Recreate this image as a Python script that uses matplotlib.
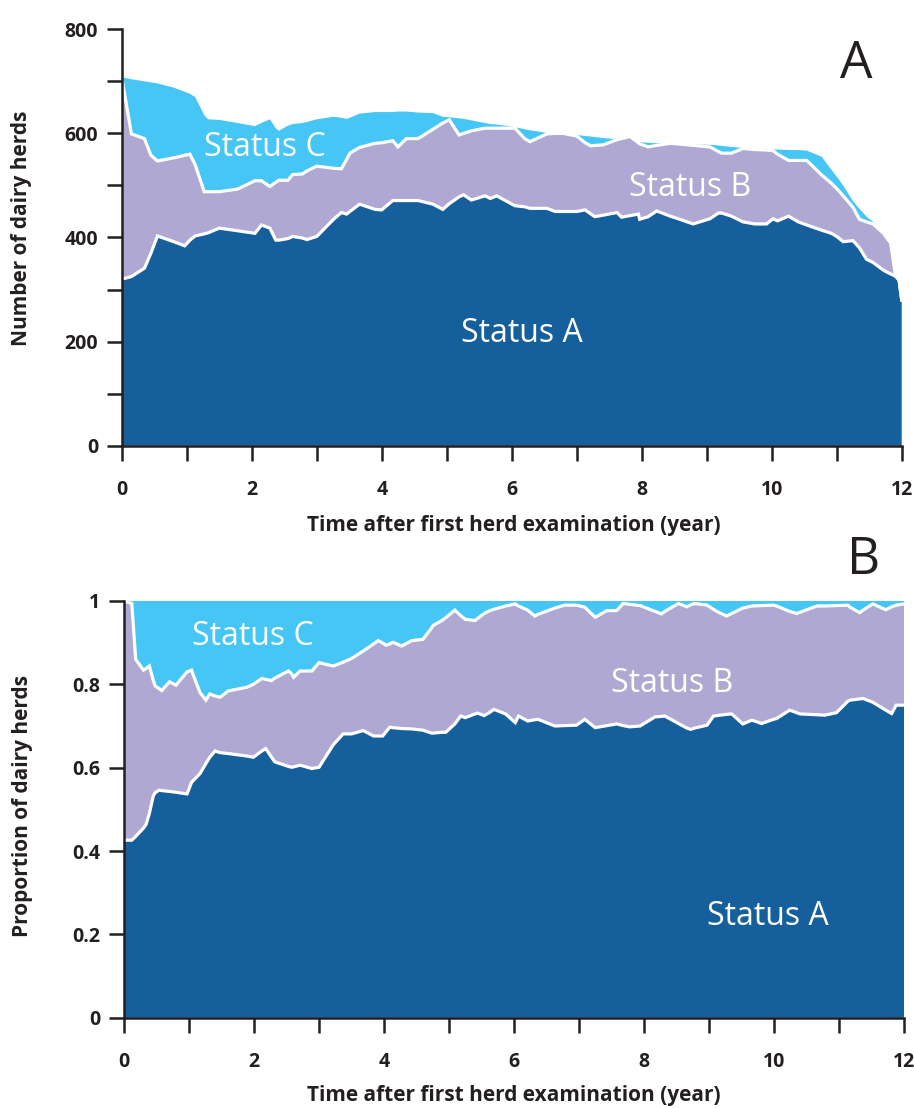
import numpy as np
import matplotlib.pyplot as plt
from matplotlib.ticker import MultipleLocator

plt.rcParams["font.family"] = ["Open Sans", "DejaVu Sans"]

# Herd counts per status over time (panel A)
count_years = [
    0.00, 0.15, 0.35, 0.45, 0.55, 0.80, 0.97, 1.05, 1.13, 1.27, 1.33, 1.50,
    1.78, 2.05, 2.15, 2.28, 2.37, 2.42, 2.56, 2.63, 2.78, 2.85, 3.00, 3.26,
    3.38, 3.46, 3.51, 3.66, 3.90, 4.00, 4.17, 4.25, 4.38, 4.56, 4.79, 4.94,
    5.04, 5.19, 5.26, 5.38, 5.59, 5.67, 5.77, 6.05, 6.20, 6.28, 6.54, 6.67,
    6.79, 7.00, 7.13, 7.22, 7.28, 7.41, 7.62, 7.69, 7.82, 7.95, 7.97, 8.10,
    8.23, 8.44, 8.54, 8.79, 9.05, 9.18, 9.23, 9.38, 9.56, 9.74, 9.92, 10.02,
    10.09, 10.26, 10.41, 10.54, 10.77, 10.92, 11.00, 11.10, 11.25, 11.35,
    11.46, 11.56, 11.72, 11.83, 11.90, 11.96, 12.00,
]
count_a = [
    320, 325, 341, 370, 403, 392, 384, 395, 403, 407, 409, 418,
    413, 408, 424, 418, 395, 395, 398, 402, 399, 396, 402, 435,
    448, 445, 450, 464, 454, 453, 471, 471, 471, 471, 464, 454,
    465, 478, 482, 472, 480, 475, 480, 461, 459, 456, 456, 450,
    450, 450, 453, 445, 440, 443, 448, 439, 442, 445, 435, 440,
    451, 441, 437, 426, 436, 447, 447, 441, 430, 426, 426, 436,
    432, 441, 430, 424, 414, 408, 402, 392, 394, 380,
    358, 352, 337, 330, 326, 318, 280,
]
count_b = [
    388, 274, 249, 188, 144, 161, 174, 165, 137, 81, 79, 70,
    80, 101, 85, 80, 111, 115, 112, 119, 123, 132, 135, 98,
    84, 105, 112, 109, 127, 129, 115, 103, 119, 119, 144, 166,
    161, 119, 118, 133, 130, 135, 130, 149, 131, 128, 143, 150,
    150, 145, 129, 131, 137, 135, 140, 151, 152, 137, 145, 134,
    126, 140, 143, 151, 138, 118, 115, 121, 141, 143, 142, 131,
    128, 107, 118, 124, 106, 96, 92, 88, 64, 55,
    72, 74, 71, 59, 5, 0, 0,
]
count_c = [
    0, 105, 110, 140, 149, 135, 122, 116, 130, 147, 139, 138,
    127, 105, 111, 129, 104, 95, 105, 97, 98, 94, 90, 99,
    98, 78, 68, 65, 60, 59, 55, 68, 52, 50, 31, 12,
    5, 32, 28, 20, 10, 8, 7, 2, 18, 22, 2, 1,
    0, 2, 13, 18, 16, 13, 1, 0, 0, 2, 3, 8,
    4, 0, 1, 2, 4, 12, 14, 12, 1, 2, 2, 2,
    9, 20, 20, 19, 35, 26, 23, 20, 12, 20,
    10, 4, 0, 0, 0, 0, 0,
]

# Proportion of herds per status over time (panel B)
prop_years = [
    0.00, 0.12, 0.18, 0.30, 0.34, 0.39, 0.45, 0.48, 0.54, 0.58, 0.70, 0.80,
    0.97, 1.04, 1.06, 1.17, 1.26, 1.32, 1.40, 1.48, 1.60, 1.89, 1.99, 2.12,
    2.18, 2.27, 2.32, 2.53, 2.58, 2.61, 2.71, 2.89, 3.00, 3.22, 3.37, 3.50,
    3.68, 3.84, 3.91, 3.98, 4.03, 4.09, 4.14, 4.27, 4.43, 4.60, 4.73, 4.76,
    4.89, 4.95, 5.09, 5.18, 5.25, 5.40, 5.44, 5.54, 5.63, 5.69, 5.87, 6.02,
    6.07, 6.21, 6.32, 6.37, 6.63, 6.78, 6.96, 7.09, 7.25, 7.43, 7.58, 7.68,
    7.78, 7.94, 8.17, 8.27, 8.32, 8.53, 8.66, 8.72, 8.78, 8.97, 9.07, 9.12,
    9.27, 9.35, 9.52, 9.66, 9.81, 9.99, 10.04, 10.24, 10.35, 10.40, 10.66,
    10.78, 10.96, 11.14, 11.17, 11.32, 11.37, 11.52, 11.72, 11.81, 11.88,
    12.00,
]
prop_a = [
    .426, .426, .435, .455, .464, .490, .532, .540, .546, .545, .543, .541,
    .537, .565, .568, .586, .610, .625, .640, .636, .634, .628, .625, .640,
    .646, .625, .614, .603, .601, .602, .606, .598, .601, .655, .681, .681,
    .689, .676, .676, .676, .686, .697, .696, .694, .693, .690, .683, .683,
    .685, .685, .705, .724, .720, .729, .731, .725, .733, .740, .729, .708,
    .724, .712, .715, .716, .700, .701, .702, .716, .696, .701, .705, .701,
    .698, .700, .722, .723, .724, .706, .695, .692, .695, .702, .724, .725,
    .728, .729, .705, .714, .706, .716, .718, .738, .732, .729, .727,
    .726, .732, .760, .762, .765, .766, .757, .738, .730, .750,
    .750,
]
prop_b = [
    .574, .568, .425, .379, .374, .354, .278, .256, .244, .240, .263, .257,
    .293, .269, .257, .194, .152, .152, .132, .133, .150, .165, .175, .174,
    .166, .184, .201, .229, .224, .215, .226, .234, .251, .189, .172, .181,
    .191, .221, .229, .223, .208, .200, .205, .198, .212, .218, .252, .259,
    .268, .275, .273, .241, .236, .224, .227, .245, .244, .240, .259, .285,
    .264, .266, .249, .252, .283, .289, .288, .269, .265, .276, .272, .293,
    .294, .289, .253, .246, .251, .288, .291, .299, .299, .288, .256, .250,
    .236, .241, .278, .274, .283, .274, .270, .237, .238, .244, .261,
    .262, .257, .230, .223, .207, .212, .236, .241, .256, .240,
    .243,
]
prop_c = [
    .000, .006, .140, .166, .162, .156, .190, .204, .210, .215, .194, .202,
    .170, .166, .175, .220, .238, .223, .228, .231, .216, .207, .200, .186,
    .188, .191, .185, .168, .175, .183, .168, .168, .148, .156, .147, .138,
    .120, .103, .095, .101, .106, .103, .099, .108, .095, .092, .065, .058,
    .047, .040, .022, .035, .044, .047, .042, .030, .023, .020, .012, .007,
    .012, .022, .036, .032, .017, .010, .010, .015, .039, .023, .023, .006,
    .008, .011, .025, .031, .025, .006, .014, .009, .006, .010, .020, .025,
    .036, .030, .017, .012, .011, .010, .012, .025, .030, .027, .012,
    .012, .011, .010, .015, .028, .022, .007, .021, .014, .010,
    .007,
]

status_names = ["Status A", "Status B", "Status C"]
status_colors = ["#155f9c", "#aea8d2", "#45c6f4"]
count_ticks = [0, 200, 400, 600, 800]
count_tick_labels = ["0", "200", "400", "600", "800"]
prop_ticks = [0, 0.2, 0.4, 0.6, 0.8, 1.0]
prop_tick_labels = ["0", "0.2", "0.4", "0.6", "0.8", "1"]
year_ticks = [0, 2, 4, 6, 8, 10, 12]

ink = "#231f20"
W, H = 914, 1108


def px(x, y):
    """Pixel position (from top-left) to figure fraction."""
    return x / W, 1 - y / H


def draw_stack(ax, years, a, b, c):
    ax.stackplot(years, a, b, c, colors=status_colors, linewidth=0)
    a = np.asarray(a, dtype=float)
    ab = a + np.asarray(b, dtype=float)
    ax.plot(years, a, color="white", lw=2.3, solid_joinstyle="miter")
    ax.plot(years, ab, color="white", lw=2.3, solid_joinstyle="miter")


def style_axes(ax, yticks, ylabels, yminor):
    for side in ("top", "right"):
        ax.spines[side].set_visible(False)
    for side in ("left", "bottom"):
        ax.spines[side].set_linewidth(1.8)
        ax.spines[side].set_color(ink)
        ax.spines[side].set_zorder(5)
    ax.set_xlim(0, 12)
    ax.set_xticks(year_ticks)
    ax.set_xticklabels([str(t) for t in year_ticks])
    ax.xaxis.set_minor_locator(MultipleLocator(1))
    ax.set_yticks(yticks)
    ax.set_yticklabels(ylabels)
    if yminor:
        ax.yaxis.set_minor_locator(MultipleLocator(yminor))
    ax.tick_params(axis="both", which="both", direction="out", length=11,
                   width=1.8, color=ink)
    ax.tick_params(axis="x", which="major", pad=14, labelsize=14)
    ax.tick_params(axis="y", which="major", pad=6, labelsize=14)
    for lbl in ax.get_xticklabels() + ax.get_yticklabels():
        lbl.set_fontweight("bold")
        lbl.set_color(ink)


fig = plt.figure(figsize=(W / 100, H / 100), dpi=100)

# Panel A: number of herds
ax1 = fig.add_axes([121.7 / W, 1 - 445.7 / H, 780 / W, 416.4 / H])
draw_stack(ax1, count_years, count_a, count_b, count_c)
style_axes(ax1, count_ticks, count_tick_labels, 100)
ax1.set_ylim(0, 800)
ax1.text(2.2, 572, status_names[2], color="white", fontsize=23, ha="center", va="center")
ax1.text(8.74, 497, status_names[1], color="white", fontsize=23, ha="center", va="center")
ax1.text(6.16, 216, status_names[0], color="white", fontsize=23, ha="center", va="center")

# Panel B: proportion of herds
ax2 = fig.add_axes([124 / W, 1 - 1017.7 / H, 780 / W, 416.7 / H])
draw_stack(ax2, prop_years, prop_a, prop_b, prop_c)
style_axes(ax2, prop_ticks, prop_tick_labels, None)
ax2.set_ylim(0, 1)
ax2.text(1.98, 0.916, status_names[2], color="white", fontsize=23, ha="center", va="center")
ax2.text(8.43, 0.803, status_names[1], color="white", fontsize=23, ha="center", va="center")
ax2.text(9.9, 0.242, status_names[0], color="white", fontsize=23, ha="center", va="center")

# Axis titles and panel letters
xlabel = "Time after first herd examination (year)"
fig.text(*px(514, 525), xlabel, fontsize=15, fontweight="bold", color=ink,
         ha="center", va="center")
fig.text(*px(514, 1095), xlabel, fontsize=15, fontweight="bold", color=ink,
         ha="center", va="center")
fig.text(*px(22, 228), "Number of dairy herds", fontsize=15, fontweight="bold",
         color=ink, rotation=90, ha="center", va="center")
fig.text(*px(23, 806), "Proportion of dairy herds", fontsize=15, fontweight="bold",
         color=ink, rotation=90, ha="center", va="center")
fig.text(*px(856, 64), "A", fontsize=37, color=ink, ha="center", va="center")
fig.text(*px(864, 560), "B", fontsize=37, color=ink, ha="center", va="center")

fig.savefig("out.png", dpi=100)
